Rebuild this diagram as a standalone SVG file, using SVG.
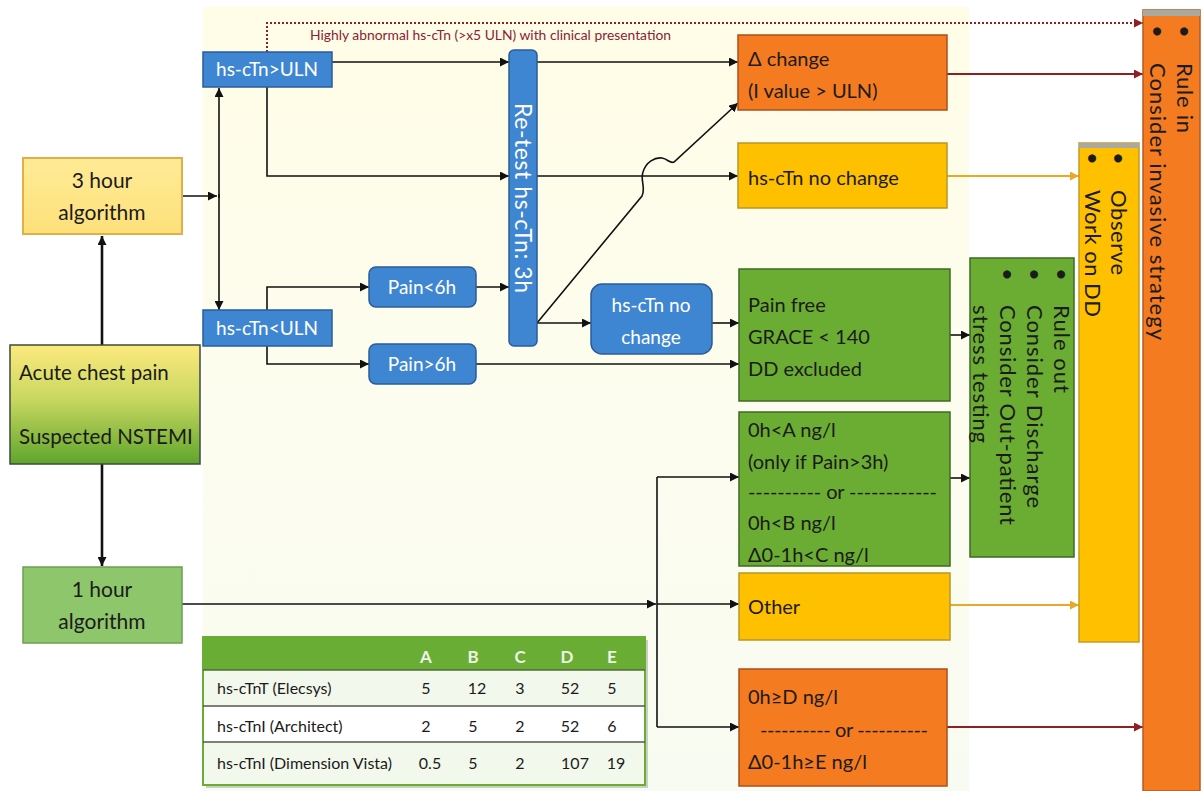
<svg xmlns="http://www.w3.org/2000/svg" width="1203" height="791" viewBox="0 0 1203 791">
<defs>
<linearGradient id="bg" x1="0" y1="0" x2="0" y2="1">
<stop offset="0" stop-color="#FFFDE6"/>
<stop offset="0.5" stop-color="#FDFDEF"/>
<stop offset="1" stop-color="#F8FBF1"/>
</linearGradient>
<linearGradient id="acute" x1="0" y1="0" x2="0" y2="1">
<stop offset="0" stop-color="#FDE97E"/>
<stop offset="0.45" stop-color="#C9D860"/>
<stop offset="1" stop-color="#5FA52C"/>
</linearGradient>
<linearGradient id="yel3" x1="0" y1="0" x2="0" y2="1">
<stop offset="0" stop-color="#FFEB96"/>
<stop offset="1" stop-color="#FDE07A"/>
</linearGradient>
<marker id="ab" viewBox="0 0 10 10" refX="10" refY="5" markerWidth="9" markerHeight="9" markerUnits="userSpaceOnUse" orient="auto"><path d="M0,0 L10,5 L0,10 z" fill="#111"/></marker>
<marker id="ar" viewBox="0 0 10 10" refX="10" refY="5" markerWidth="9" markerHeight="9" markerUnits="userSpaceOnUse" orient="auto"><path d="M0,0 L10,5 L0,10 z" fill="#8E1F22"/></marker>
<marker id="ay" viewBox="0 0 10 10" refX="10" refY="5" markerWidth="9" markerHeight="9" markerUnits="userSpaceOnUse" orient="auto"><path d="M0,0 L10,5 L0,10 z" fill="#E8A92A"/></marker>
<style>
text{font-family:Lato,"Open Sans","Liberation Sans",sans-serif;fill:#1b1b1b}
.bl{fill:#3F86D2;stroke:#2B5C98;stroke-width:1.5}
.wt{fill:#ffffff;font-size:19px}
.or{fill:#F47B20;stroke:#A9501C;stroke-width:1.5}
.ye{fill:#FFC000;stroke:#B8962A;stroke-width:1.5}
.gr{fill:#6BAD33;stroke:#3E6A24;stroke-width:1.5}
.bx{font-size:20px}
.rt{font-size:22px}
.c{fill:none;stroke:#111;stroke-width:1.6}
.ct{fill:none;stroke:#111;stroke-width:2.6}
.tb{font-size:16px}
.th{font-size:17px;fill:#EEF4E6;font-weight:bold}
</style>
</defs>
<rect x="0" y="0" width="1203" height="791" fill="#ffffff"/>
<rect x="203" y="7" width="766" height="784" fill="url(#bg)"/>

<g id="connectors">
<path class="ct" d="M102,345 L102,236" marker-end="url(#ab)"/>
<path class="ct" d="M102,464 L102,566" marker-end="url(#ab)"/>
<path class="c" d="M182,196 L217,196" marker-end="url(#ab)"/>
<path class="c" d="M219,198 L219,88" marker-end="url(#ab)"/>
<path class="c" d="M219,194 L219,310" marker-end="url(#ab)"/>
<path class="c" d="M332,62 L509,62" marker-end="url(#ab)"/>
<path class="c" d="M267,87 L267,176 L509,176" marker-end="url(#ab)"/>
<path class="c" d="M537,62 L738,62" marker-end="url(#ab)"/>
<path class="c" d="M537,176 L738,176" marker-end="url(#ab)"/>
<path d="M267,52 L267,23 L1143,23" fill="none" stroke="#8E1F22" stroke-width="2" stroke-dasharray="2 2" marker-end="url(#ar)"/>
<path class="c" d="M267,310 L267,287 L369,287" marker-end="url(#ab)"/>
<path class="c" d="M267,346 L267,364 L369,364" marker-end="url(#ab)"/>
<path class="c" d="M476,287 L509,287" marker-end="url(#ab)"/>
<path class="c" d="M537,323 L591,323" marker-end="url(#ab)"/>
<path class="c" d="M537,323 L642,196 C646,188 640,180 643,172 C646,162 655,157 662,158 C668,159 670,164 674,162 L738,103" marker-end="url(#ab)"/>
<path class="c" d="M712,323 L739,323" marker-end="url(#ab)"/>
<path class="c" d="M476,364 L739,364" marker-end="url(#ab)"/>
<path class="c" d="M950,335 L970,335" marker-end="url(#ab)"/>
<path class="c" d="M950,478 L970,478" marker-end="url(#ab)"/>
<path d="M947,74 L1143,74" fill="none" stroke="#8E1F22" stroke-width="2" marker-end="url(#ar)"/>
<path d="M947,176 L1079,176" fill="none" stroke="#E8A92A" stroke-width="2" marker-end="url(#ay)"/>
<path d="M950,605 L1079,605" fill="none" stroke="#E8A92A" stroke-width="2" marker-end="url(#ay)"/>
<path d="M947,727 L1143,727" fill="none" stroke="#8E1F22" stroke-width="2" marker-end="url(#ar)"/>
<path class="c" d="M182,604 L656,604" marker-end="url(#ab)"/>
<path class="c" d="M657,477 L657,727"/>
<path class="c" d="M657,477 L739,477" marker-end="url(#ab)"/>
<path class="c" d="M657,604 L739,604" marker-end="url(#ab)"/>
<path class="c" d="M657,727 L739,727" marker-end="url(#ab)"/>
<text x="310" y="40" textLength="361" lengthAdjust="spacingAndGlyphs" style="font-size:13.5px;fill:#8B2232">Highly abnormal hs-cTn (&gt;x5 ULN) with clinical presentation</text>
</g>

<g id="n-3hour">
<rect x="23" y="158" width="159" height="76" fill="url(#yel3)" stroke="#E2AE48" stroke-width="2"/>
<text x="102" y="188" text-anchor="middle" style="font-size:21px">3 hour</text>
<text x="102" y="220" text-anchor="middle" style="font-size:21px">algorithm</text>
</g>
<g id="n-acute">
<rect x="10" y="345" width="190" height="119" fill="url(#acute)" stroke="#3F4A3A" stroke-width="1.5"/>
<text x="19" y="380" style="font-size:20.5px">Acute chest pain</text>
<text x="19" y="444" style="font-size:20.5px">Suspected NSTEMI</text>
</g>
<g id="n-1hour">
<rect x="23" y="567" width="159" height="76" fill="#8EC66C" stroke="#6E9E52" stroke-width="1.5"/>
<text x="102" y="597" text-anchor="middle" style="font-size:21px">1 hour</text>
<text x="102" y="629" text-anchor="middle" style="font-size:21px">algorithm</text>
</g>
<g id="n-gtuln">
<rect class="bl" x="203" y="52" width="129" height="35"/>
<text class="wt" x="267" y="76" text-anchor="middle">hs-cTn&gt;ULN</text>
</g>
<g id="n-ltuln">
<rect class="bl" x="203" y="310" width="129" height="36"/>
<text class="wt" x="267" y="335" text-anchor="middle">hs-cTn&lt;ULN</text>
</g>
<g id="n-pain-lt6">
<rect class="bl" x="369" y="267" width="107" height="40" rx="7"/>
<text class="wt" x="422" y="294" text-anchor="middle">Pain&lt;6h</text>
</g>
<g id="n-pain-gt6">
<rect class="bl" x="369" y="344" width="107" height="40" rx="7"/>
<text class="wt" x="422" y="371" text-anchor="middle">Pain&gt;6h</text>
</g>
<g id="n-retest">
<rect class="bl" x="509" y="50" width="28" height="296" rx="5"/>
<text class="wt" transform="rotate(90 515 103)" x="515" y="103" textLength="190" lengthAdjust="spacing" style="font-size:23px">Re-test hs-cTn: 3h</text>
</g>
<g id="n-nochange-blue">
<rect class="bl" x="591" y="284" width="121" height="70" rx="11"/>
<text class="wt" x="651" y="312" text-anchor="middle">hs-cTn no</text>
<text class="wt" x="651" y="344" text-anchor="middle">change</text>
</g>
<g id="n-delta">
<rect class="or" x="738" y="35" width="209" height="75"/>
<text class="bx" x="748" y="66">Δ change</text>
<text class="bx" x="748" y="98">(I value &gt; ULN)</text>
</g>
<g id="n-nochange-yellow">
<rect class="ye" x="738" y="143" width="209" height="65"/>
<text class="bx" x="748" y="185">hs-cTn no change</text>
</g>
<g id="n-painfree">
<rect class="gr" x="739" y="269" width="211" height="132"/>
<text class="bx" x="748" y="312">Pain free</text>
<text class="bx" x="748" y="344">GRACE &lt; 140</text>
<text class="bx" x="748" y="376">DD excluded</text>
</g>
<g id="n-0hA">
<rect class="gr" x="739" y="412" width="211" height="154"/>
<text class="bx" x="748" y="437">0h&lt;A ng/l</text>
<text class="bx" x="748" y="469">(only if Pain&gt;3h)</text>
<text class="bx" x="748" y="499" textLength="189" lengthAdjust="spacing">---------- or ------------</text>
<text class="bx" x="748" y="530">0h&lt;B ng/l</text>
<text class="bx" x="748" y="562">Δ0-1h&lt;C ng/l</text>
</g>
<g id="n-other">
<rect class="ye" x="739" y="573" width="211" height="67"/>
<text class="bx" x="748" y="614">Other</text>
</g>
<g id="n-0hD">
<rect class="or" x="739" y="669" width="208" height="117"/>
<text class="bx" x="748" y="704">0h≥D ng/l</text>
<text class="bx" x="760" y="737" textLength="168" lengthAdjust="spacing">---------- or ----------</text>
<text class="bx" x="748" y="769">Δ0-1h≥E ng/l</text>
</g>
<g id="n-ruleout">
<rect class="gr" x="970" y="258" width="104" height="299"/>
<text class="rt" transform="rotate(90 1054 268)" x="1054" y="268">•</text>
<text class="rt" transform="rotate(90 1054 305)" x="1054" y="305" textLength="88" lengthAdjust="spacing">Rule out</text>
<text class="rt" transform="rotate(90 1027 268)" x="1027" y="268">•</text>
<text class="rt" transform="rotate(90 1027 305)" x="1027" y="305" textLength="203" lengthAdjust="spacing">Consider Discharge</text>
<text class="rt" transform="rotate(90 1000 268)" x="1000" y="268">•</text>
<text class="rt" transform="rotate(90 1000 305)" x="1000" y="305" textLength="220" lengthAdjust="spacing">Consider Out-patient</text>
<text class="rt" transform="rotate(90 973 305)" x="973" y="305" textLength="138" lengthAdjust="spacing">stress testing</text>
</g>
<g id="n-observe">
<rect x="1079" y="143" width="60" height="499" fill="#FFC000" stroke="#C49A2A" stroke-width="1.5"/>
<rect x="1079" y="143" width="60" height="5" fill="#A9A9A0"/>
<text class="rt" transform="rotate(90 1111 152)" x="1111" y="152">•</text>
<text class="rt" transform="rotate(90 1111 190)" x="1111" y="190" textLength="85" lengthAdjust="spacing">Observe</text>
<text class="rt" transform="rotate(90 1085 152)" x="1085" y="152">•</text>
<text class="rt" transform="rotate(90 1085 190)" x="1085" y="190" textLength="127" lengthAdjust="spacing">Work on DD</text>
</g>
<g id="n-rulein">
<rect x="1143" y="10" width="57" height="781" fill="#F47B20" stroke="#B45A26" stroke-width="1.5"/>
<rect x="1143" y="10" width="57" height="6" fill="#A9A9A0"/>
<text class="rt" transform="rotate(90 1177 25)" x="1177" y="25">•</text>
<text class="rt" transform="rotate(90 1177 63)" x="1177" y="63" textLength="70" lengthAdjust="spacing">Rule in</text>
<text class="rt" transform="rotate(90 1150 25)" x="1150" y="25">•</text>
<text class="rt" transform="rotate(90 1150 63)" x="1150" y="63" textLength="277" lengthAdjust="spacing">Consider invasive strategy</text>
</g>

<g id="table">
<rect x="206" y="640" width="442" height="148" fill="#C9CFC2"/>
<rect x="203" y="637" width="442" height="148" fill="#ffffff" stroke="#6AAD35" stroke-width="2"/>
<rect x="203" y="637" width="442" height="33" fill="#6AAD35"/>
<rect x="204" y="671" width="440" height="35" fill="#F3F8EC"/>
<rect x="204" y="743" width="440" height="41" fill="#F3F8EC"/>
<line x1="203" y1="670" x2="645" y2="670" stroke="#4F6A3A" stroke-width="1.5"/>
<line x1="203" y1="706" x2="645" y2="706" stroke="#4F5A48" stroke-width="1.5"/>
<line x1="203" y1="742" x2="645" y2="742" stroke="#4F5A48" stroke-width="1.5"/>
<text class="th" x="426" y="663" text-anchor="middle">A</text>
<text class="th" x="473" y="663" text-anchor="middle">B</text>
<text class="th" x="520" y="663" text-anchor="middle">C</text>
<text class="th" x="567" y="663" text-anchor="middle">D</text>
<text class="th" x="612" y="663" text-anchor="middle">E</text>
<text class="tb" x="217" y="694">hs-cTnT (Elecsys)</text>
<text class="tb" x="426" y="694" text-anchor="middle">5</text>
<text class="tb" x="477" y="694" text-anchor="middle">12</text>
<text class="tb" x="520" y="694" text-anchor="middle">3</text>
<text class="tb" x="570" y="694" text-anchor="middle">52</text>
<text class="tb" x="612" y="694" text-anchor="middle">5</text>
<text class="tb" x="217" y="732">hs-cTnI (Architect)</text>
<text class="tb" x="426" y="732" text-anchor="middle">2</text>
<text class="tb" x="473" y="732" text-anchor="middle">5</text>
<text class="tb" x="520" y="732" text-anchor="middle">2</text>
<text class="tb" x="570" y="732" text-anchor="middle">52</text>
<text class="tb" x="612" y="732" text-anchor="middle">6</text>
<text class="tb" x="217" y="769">hs-cTnI (Dimension Vista)</text>
<text class="tb" x="430" y="769" text-anchor="middle">0.5</text>
<text class="tb" x="473" y="769" text-anchor="middle">5</text>
<text class="tb" x="520" y="769" text-anchor="middle">2</text>
<text class="tb" x="575" y="769" text-anchor="middle">107</text>
<text class="tb" x="616" y="769" text-anchor="middle">19</text>
</g>
</svg>
